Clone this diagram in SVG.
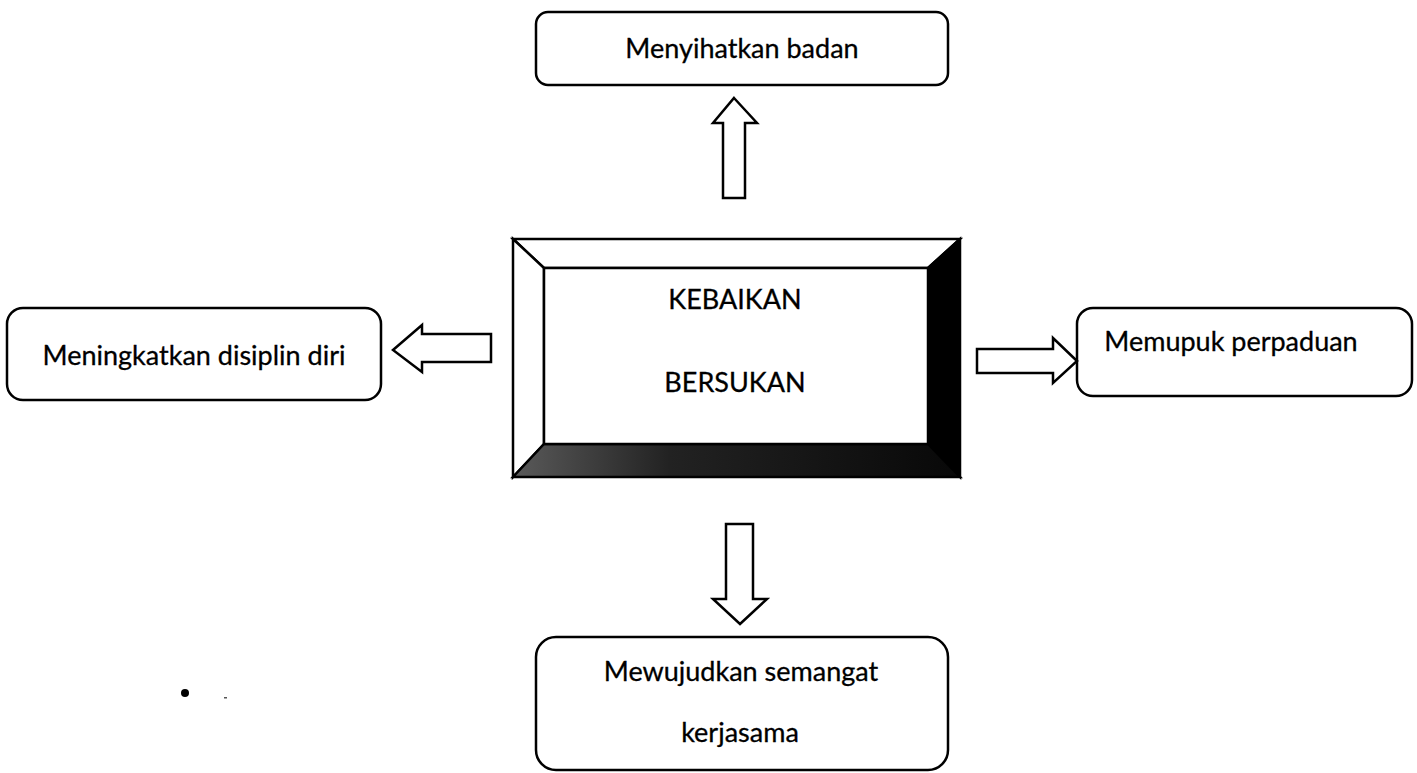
<svg xmlns="http://www.w3.org/2000/svg" width="1417" height="773" viewBox="0 0 1417 773">
<defs>
<style>
.box{fill:#fff;stroke:#000;stroke-width:2.5}
.arr{fill:#fff;stroke:#000;stroke-width:2.5;stroke-linejoin:miter}
.t{font-family:Lato,"Open Sans",sans-serif;font-size:27px;fill:#000;text-anchor:middle;stroke:#000;stroke-width:0.3}
.bev{stroke:#000;stroke-width:2.5;stroke-linejoin:miter}
</style>
<linearGradient id="gb" x1="0" y1="0" x2="1" y2="0">
<stop offset="0" stop-color="#5a5a5a"/>
<stop offset="0.35" stop-color="#222"/>
<stop offset="1" stop-color="#080808"/>
</linearGradient>
</defs>
<rect width="1417" height="773" fill="#fff"/>
<g id="center">
<polygon class="bev" points="513,239 960,239 928,268 544,268" fill="#fff"/>
<polygon class="bev" points="513,239 544,268 544,444 513,477" fill="#fff"/>
<polygon class="bev" points="960,239 960,477 928,444 928,268" fill="#000"/>
<polygon class="bev" points="513,477 544,444 928,444 960,477" fill="url(#gb)"/>
<rect x="544" y="268" width="384" height="176" fill="#fff" stroke="#000" stroke-width="2.5"/>
<text class="t" x="735" y="309">KEBAIKAN</text>
<text class="t" x="735" y="392">BERSUKAN</text>
</g>
<g id="top">
<rect class="box" x="536" y="12" width="412" height="73" rx="12"/>
<text class="t" x="742" y="58">Menyihatkan badan</text>
</g>
<g id="left">
<rect class="box" x="7" y="308" width="374" height="92" rx="16"/>
<text class="t" x="194" y="365">Meningkatkan disiplin diri</text>
</g>
<g id="right">
<rect class="box" x="1077" y="308" width="335" height="88" rx="16"/>
<text class="t" x="1231" y="351">Memupuk perpaduan</text>
</g>
<g id="bottom">
<rect class="box" x="536" y="637" width="412" height="133" rx="20"/>
<text class="t" x="741" y="681">Mewujudkan semangat</text>
<text class="t" x="740" y="742">kerjasama</text>
</g>
<g id="connectors">
<polygon class="arr" points="734,98 757,123 745,123 745,198 723,198 723,123 713,123"/>
<polygon class="arr" points="740,624 767,599 753,599 753,524 726,524 726,599 713,599"/>
<polygon class="arr" points="393,350 422,325 422,334 491,334 491,362 422,362 422,372"/>
<polygon class="arr" points="1077,361 1053,338 1053,349 977,349 977,373 1053,373 1053,383"/>
</g>
<g id="specks">
<circle cx="185" cy="693" r="4" fill="#000"/>
<rect x="224" y="697" width="3" height="1.5" fill="#555"/>
</g>
</svg>
